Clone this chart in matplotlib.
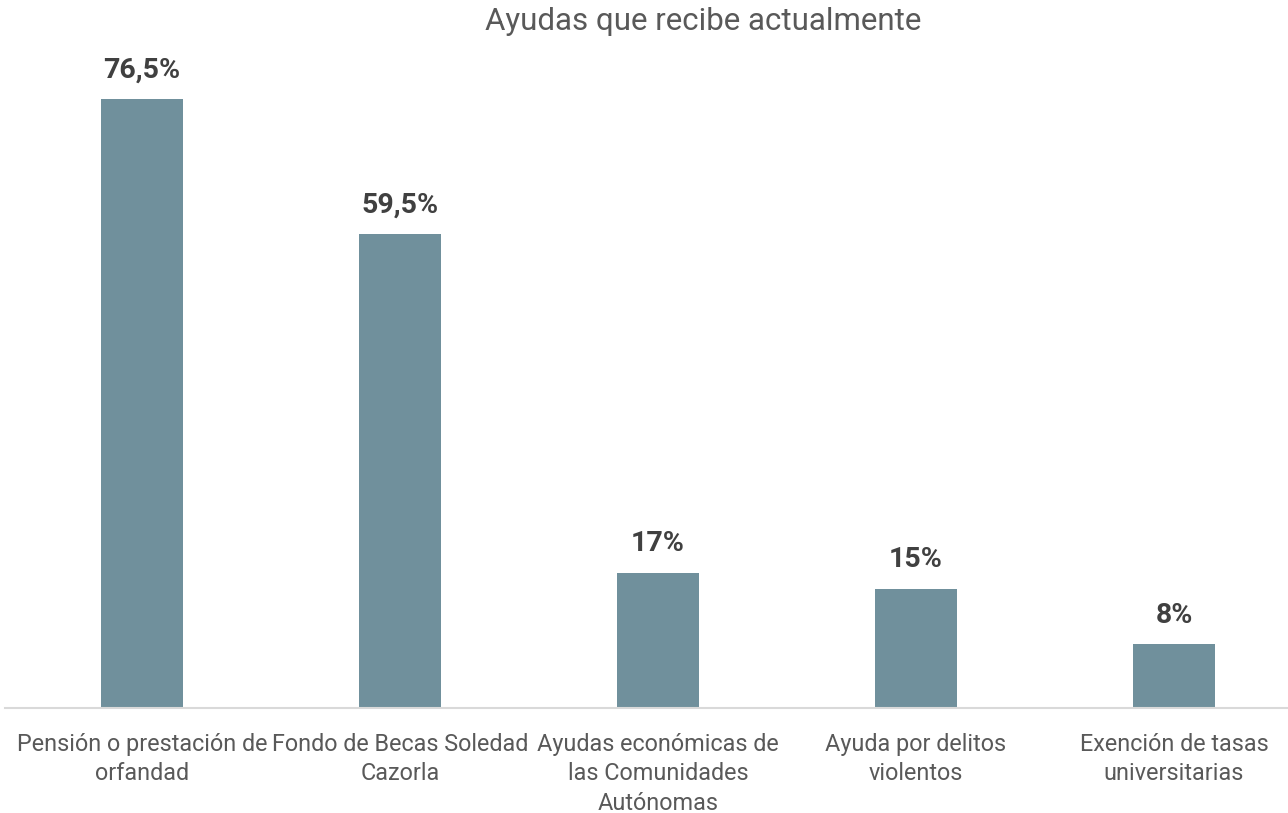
import matplotlib
matplotlib.use("Agg")
import matplotlib.pyplot as plt

categories = ["Pensión o prestación de\norfandad",
              "Fondo de Becas Soledad\nCazorla",
              "Ayudas económicas de\nlas Comunidades\nAutónomas",
              "Ayuda por delitos\nviolentos",
              "Exención de tasas\nuniversitarias"]
values = [76.5, 59.5, 17, 15, 8]
title = "Ayudas que recibe actualmente"

plt.rcParams['font.family'] = ['Roboto', 'DejaVu Sans']

W, H = 1288, 813
fig = plt.figure(figsize=(W / 100, H / 100), dpi=100)
# axes: x from 5px to 1288px, baseline at 708px, top at 60px
ax = fig.add_axes([5 / W, (H - 708) / H, (1288 - 5) / W, (708 - 60) / H])

x = list(range(len(values)))
bars = ax.bar(x, values, width=0.315, color="#70909C")
ax.set_xlim(-(142 - 5) / 258, (1288 - 142) / 258)
ax.set_ylim(0, (708 - 60) / 7.96)

for xi, v in zip(x, values):
    lab = (f"{v:g}".replace(".", ",")) + "%"
    ax.annotate(lab, (xi, v), xytext=(0, 11), textcoords="offset points",
                ha="center", va="bottom", fontsize=20.5, fontweight="bold",
                color="#404040")

ax.set_xticks(x)
ax.set_xticklabels(categories, fontsize=16.8, color="#595959", linespacing=1.35)
ax.tick_params(axis="x", length=0, pad=18)
ax.set_yticks([])
for s in ["top", "right", "left"]:
    ax.spines[s].set_visible(False)
ax.spines["bottom"].set_color("#D9D9D9")
ax.spines["bottom"].set_linewidth(1.5)

fig.text(703 / W, 1 - 22 / H, title, ha="center", va="center",
         fontsize=22.5, color="#595959")

fig.savefig("out.png", dpi=100)
